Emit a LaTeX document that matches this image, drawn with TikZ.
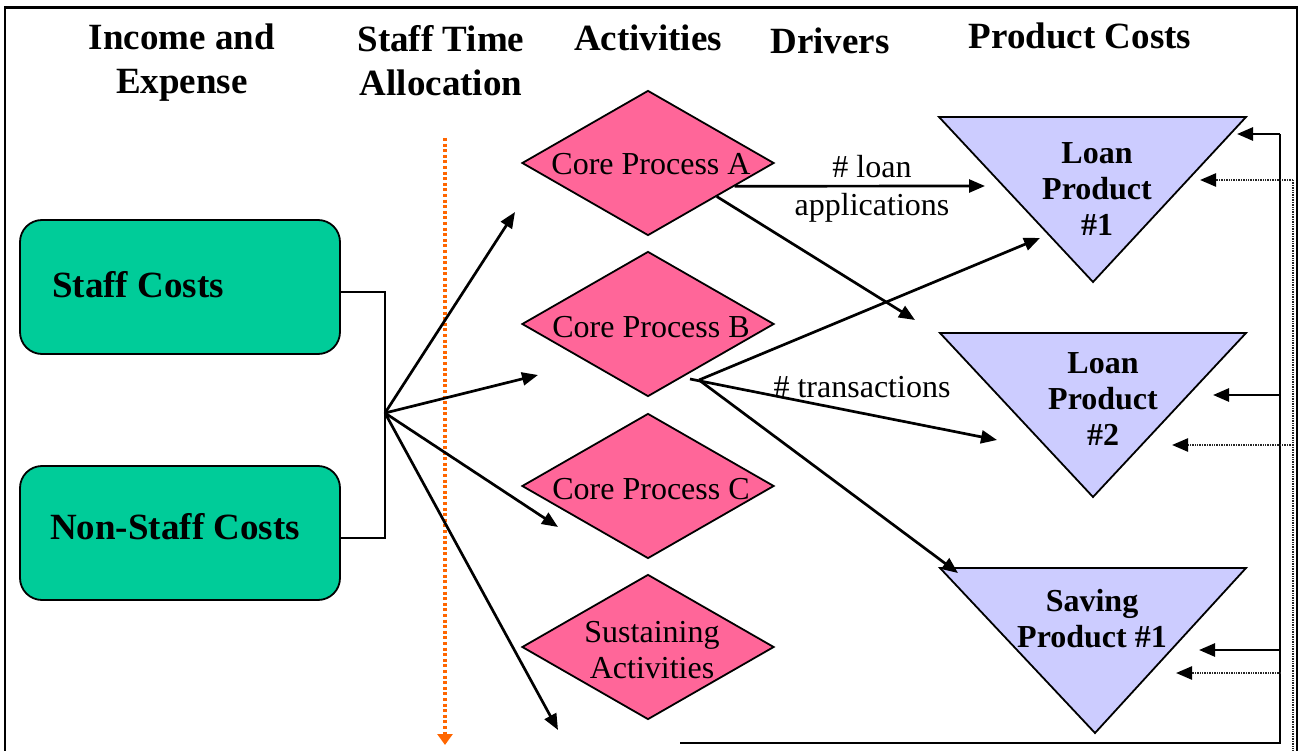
\documentclass[tikz,border=0pt]{standalone}
\usepackage{fontspec}
\setmainfont{Liberation Serif}
\usetikzlibrary{arrows.meta,shapes.geometric}
\definecolor{pinkd}{RGB}{255,102,153}
\definecolor{greenb}{RGB}{0,204,153}
\definecolor{lav}{RGB}{204,204,255}
\definecolor{orng}{RGB}{255,102,0}
\begin{document}
\begin{tikzpicture}[x=1pt,y=-1pt,
  hdr/.style={font=\bfseries\fontsize{37}{44}\selectfont, align=center, inner sep=0pt, anchor=north},
  hdrone/.style={font=\bfseries\fontsize{37}{44}\selectfont, inner sep=0pt, anchor=base},
  boxtxt/.style={font=\bfseries\fontsize{37}{44}\selectfont, inner sep=0pt, anchor=base west},
  tritxt/.style={font=\bfseries\fontsize{32}{36}\selectfont, align=center, inner sep=0pt, anchor=north},
  dtxt/.style={font=\fontsize{32}{36}\selectfont, align=center, inner sep=0pt},
  costbox/.style={draw=black, line width=1.8pt, fill=greenb, rounded corners=22pt, minimum width=320pt, minimum height=134pt, inner sep=0pt},
  actdiamond/.style={diamond, draw=black, line width=1.8pt, fill=pinkd, minimum width=252pt, minimum height=145pt, inner sep=0pt},
  tri/.style={draw=black, line width=1.8pt, fill=lav},
  arr/.style={line width=2.7pt, -{Triangle[length=16pt,width=13pt]}},
  plain/.style={line width=2.5pt},
  dots/.style={line width=2.4pt, black!85, dash pattern=on 1pt off 0.7pt},
  dotarr/.style={dots, -{Triangle[length=16pt,width=13pt,color=black]}},
  ]
\useasboundingbox (0,0) rectangle (1303,751);
% frame
\draw[line width=2.7pt] (5,775) -- (5,7.5) -- (1297,7.5) -- (1297,775);

% headers
\node[hdr] (hInc) at (182,18.2) {\strut Income and\\\strut Expense};
\node[hdr] (hStaff) at (441,20.2) {\strut Staff Time\\\strut Allocation};
\node[hdrone] (hAct) at (648,51) {Activities};
\node[hdrone] (hDrv) at (830,54) {Drivers};
\node[hdrone] (hProd) at (1080,49) {Product Costs};

% cost boxes
\node[costbox] (staff) at (180,287) {};
\node[boxtxt] (staffT) at (52,298) {Staff Costs};
\node[costbox] (nonstaff) at (180,533) {};
\node[boxtxt] (nonstaffT) at (50,539) {Non-Staff Costs};

% activities
\node[actdiamond] (cpa) at (648,163) {};
\node[dtxt, anchor=base] (cpaT) at (651,175) {Core Process A};
\node[actdiamond] (cpb) at (648,324) {};
\node[dtxt, anchor=base] (cpbT) at (651,337) {Core Process B};
\node[actdiamond] (cpc) at (648,486) {};
\node[dtxt, anchor=base] (cpcT) at (651,499) {Core Process C};
\node[actdiamond] (sus) at (648,647) {};
\node[dtxt, anchor=north] (susT) at (652,616.8) {\strut Sustaining\\\strut Activities};

% product triangles
\draw[tri] (939,117) -- (1246,117) -- (1093,282) -- cycle;
\node[tritxt] (lp1) at (1097,137.8) {\strut Loan\\\strut Product\\\strut \#1};
\draw[tri] (940,333) -- (1246,333) -- (1093,497) -- cycle;
\node[tritxt] (lp2) at (1103,347.8) {\strut Loan\\\strut Product\\\strut \#2};
\draw[tri] (940,568) -- (1246,568) -- (1095,733) -- cycle;
\node[tritxt] (sp1) at (1092,585.8) {\strut Saving\\\strut Product \#1};

% staff time allocation line
\coordinate (oTop) at (445,138);
\coordinate (oBot) at (445,745);
\draw[line width=3.3pt, orng, dash pattern=on 3pt off 2.6pt, -{Triangle[length=11pt,width=15pt,color=orng]}] (oTop) -- (oBot);

% boxes to fan
\coordinate (fan) at (385,413);
\draw[line width=2pt] ([yshift=-5pt]staff.east) -| (fan) |- ([yshift=-5pt]nonstaff.east);
\coordinate (a1) at (515,212);
\coordinate (a2) at (538,375);
\coordinate (a3) at (558,527);
\coordinate (a4) at (558,730);
\draw[arr] (fan) -- (a1);
\draw[arr] (fan) -- (a2);
\draw[arr] (fan) -- (a3);
\draw[arr] (fan) -- (a4);

% drivers from A
\coordinate (t1a) at (985,186);
\coordinate (t2a) at (915,320);
\draw[arr] (cpa.-15) -- (t1a);
\draw[arr] (cpa.-26) -- (t2a);
\node[dtxt, anchor=base] (lblLoan) at (872,178) {\# loan};
\node[dtxt, anchor=base] (lblApp) at (872,216) {applications};

% drivers from B
\coordinate (bfan) at (699,380);
\coordinate (bstub) at (690,379);
\coordinate (t1b) at (1040,238);
\coordinate (t2b) at (997,440);
\coordinate (t3b) at (958,573);
\draw[arr] (bfan) -- (t1b);
\draw[arr] (bstub) -- (t2b);
\draw[arr] (bfan) -- (t3b);
\node[dtxt, anchor=base] (lblTr) at (862,397) {\# transactions};

% feedback solid
\coordinate (bl) at (680,743);
\coordinate (br) at (1280,743);
\coordinate (rt) at (1280,134);
\coordinate (rs2) at (1280,395);
\coordinate (rs3) at (1280,650);
\coordinate (f1) at (1237,134);
\coordinate (f2) at (1213,395);
\coordinate (f3) at (1199,650);
\draw[plain] (bl) -- (br) -- (rt);
\draw[arr] (rt) -- (f1);
\draw[arr] (rs2) -- (f2);
\draw[arr] (rs3) -- (f3);

% feedback dotted
\coordinate (dt) at (1293,180);
\coordinate (dbot) at (1293,775);
\coordinate (d2) at (1293,445);
\coordinate (d3) at (1281,673);
\coordinate (g1) at (1200,180);
\coordinate (g2) at (1172,445);
\coordinate (g3) at (1176,673);
\draw[dots] (dt) -- (dbot);
\draw[dotarr] (dt) -- (g1);
\draw[dotarr] (d2) -- (g2);
\draw[dotarr] (d3) -- (g3);
\end{tikzpicture}
\end{document}
